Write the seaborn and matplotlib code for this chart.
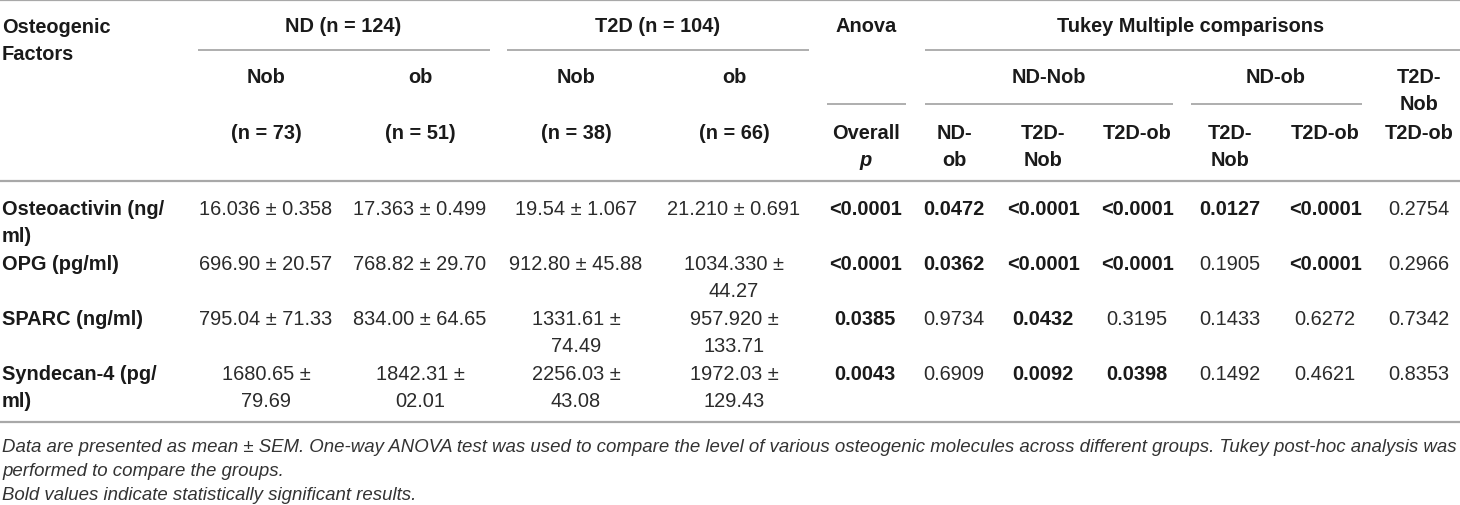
import matplotlib
matplotlib.use("Agg")
import matplotlib.pyplot as plt
import seaborn as sns

sns.set_theme(style="white")
plt.rcParams["font.family"] = ["Liberation Sans", "DejaVu Sans"]

# table data
factors = ["Osteoactivin (ng/\nml)", "OPG (pg/ml)", "SPARC (ng/ml)", "Syndecan-4 (pg/\nml)"]
nd_nob = ["16.036 ± 0.358", "696.90 ± 20.57", "795.04 ± 71.33", "1680.65 ±\n79.69"]
nd_ob = ["17.363 ± 0.499", "768.82 ± 29.70", "834.00 ± 64.65", "1842.31 ±\n02.01"]
t2d_nob = ["19.54 ± 1.067", "912.80 ± 45.88", "1331.61 ±\n74.49", "2256.03 ±\n43.08"]
t2d_ob = ["21.210 ± 0.691", "1034.330 ±\n44.27", "957.920 ±\n133.71", "1972.03 ±\n129.43"]

anova_p = ["<0.0001", "<0.0001", "0.0385", "0.0043"]
ndnob_ndob = ["0.0472", "0.0362", "0.9734", "0.6909"]
ndnob_t2dnob = ["<0.0001", "<0.0001", "0.0432", "0.0092"]
ndnob_t2dob = ["<0.0001", "<0.0001", "0.3195", "0.0398"]
ndob_t2dnob = ["0.0127", "0.1905", "0.1433", "0.1492"]
ndob_t2dob = ["<0.0001", "<0.0001", "0.6272", "0.4621"]
t2dnob_t2dob = ["0.2754", "0.2966", "0.7342", "0.8353"]

group_labels = ["ND (n = 124)", "T2D (n = 104)"]
sub_groups = ["Nob", "ob", "Nob", "ob"]
sub_n = ["(n = 73)", "(n = 51)", "(n = 38)", "(n = 66)"]
tukey_groups = ["ND-Nob", "ND-ob", "T2D-\nNob"]
tukey_cols = ["ND-\nob", "T2D-\nNob", "T2D-ob", "T2D-\nNob", "T2D-ob", "T2D-ob"]

footnotes = [
    "Data are presented as mean ± SEM. One-way ANOVA test was used to compare the level of various "
    "osteogenic molecules across different groups. Tukey post-hoc analysis was",
    "performed to compare the groups.",
    "Bold values indicate statistically significant results.",
]

# layout (pixels)
W, H = 1460, 506
FS = 14.4
LINE = 27
ROW0, ROWH = 215, 55
value_x = [266, 420, 576, 734]
p_x = [865, 954, 1043, 1137, 1230, 1325, 1419]
rule_c = "#a8a8a8"
txt_c = "#2b2b2b"
bold_c = "#1a1a1a"

fig = plt.figure(figsize=(W / 100, H / 100), dpi=100)
ax = fig.add_axes([0, 0, 1, 1])
ax.set_xlim(0, W)
ax.set_ylim(H, 0)
ax.axis("off")


def cell(x, y, s, ha="center", bold=False, italic=False, color=None):
    for k, line in enumerate(s.split("\n")):
        ax.text(x, y + k * LINE, line, ha=ha, va="baseline", fontsize=FS,
                fontweight="bold" if bold else "normal",
                fontstyle="italic" if italic else "normal",
                color=color or (bold_c if bold else txt_c))


def significant(s):
    return s.startswith("<") or float(s) < 0.05


# rules
ax.hlines([1, 182, 423], 0, W, color=rule_c, lw=1.6)
ax.hlines([51] * 3, [198, 507, 925], [490, 809, W], color=rule_c, lw=1.3)
ax.hlines([105] * 3, [827, 925, 1191], [906, 1173, 1362], color=rule_c, lw=1.3)

# header
cell(2, 33, "Osteogenic\nFactors", ha="left", bold=True)
for x, s in zip([343, 658], group_labels):
    cell(x, 32, s, bold=True)
cell(866, 32, "Anova", bold=True)
cell(1191, 32, "Tukey Multiple comparisons", bold=True)
for x, s, n in zip(value_x, sub_groups, sub_n):
    cell(x, 83, s, bold=True)
    cell(x, 139, n, bold=True)
for x, s in zip([1049, 1276, 1419], tukey_groups):
    cell(x, 83, s, bold=True)
cell(866, 139, "Overall", bold=True)
cell(866, 166, "p", bold=True, italic=True)
for x, s in zip(p_x[1:], tukey_cols):
    cell(x, 139, s, bold=True)

# body
value_cols = [nd_nob, nd_ob, t2d_nob, t2d_ob]
p_cols = [anova_p, ndnob_ndob, ndnob_t2dnob, ndnob_t2dob, ndob_t2dnob, ndob_t2dob, t2dnob_t2dob]
for i, name in enumerate(factors):
    y = ROW0 + i * ROWH
    cell(2, y, name, ha="left", bold=True)
    for x, col in zip(value_x, value_cols):
        cell(x, y, col[i])
    for x, col in zip(p_x, p_cols):
        cell(x, y, col[i], bold=significant(col[i]))

# footnotes
for k, s in enumerate(footnotes):
    ax.text(2, 452 + k * 24, s, ha="left", va="baseline", fontsize=13.4,
            fontstyle="italic", color="#333333")

fig.savefig("out.png", dpi=100)
